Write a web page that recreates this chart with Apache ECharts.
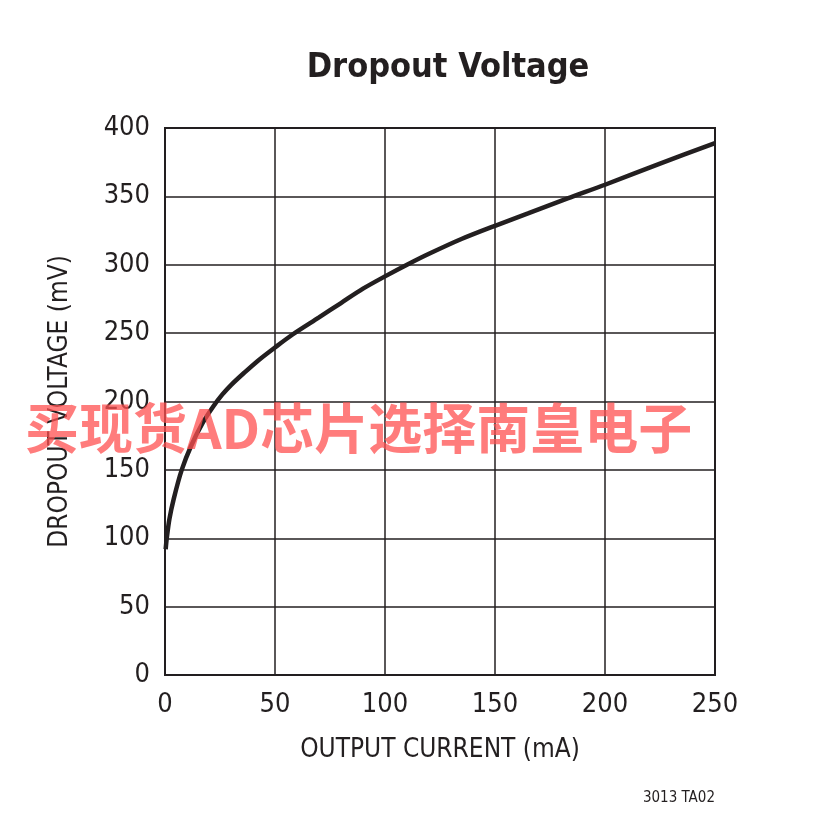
<!DOCTYPE html>
<html><head><meta charset="utf-8">
<script src="https://cdn.jsdelivr.net/npm/echarts@6/dist/echarts.min.js"></script>
<style>html,body{margin:0;padding:0;background:#fff}#c{width:827px;height:827px}</style>
</head><body><div id="c"></div>
<script>
var title = 'Dropout Voltage';
var xName = 'OUTPUT CURRENT (mA)';
var yName = 'DROPOUT VOLTAGE (mV)';
var watermark = '买现货AD芯片选择南皇电子';
var footnote = '3013 TA02';
var currentMA = [0.3, 0.8, 2, 4, 7.6, 12, 17, 22, 26, 30, 36, 42, 50, 58, 70, 80, 90, 100, 110, 120, 135, 150, 165, 183, 200, 225, 250];
var dropoutMV = [92, 100, 114, 129, 150, 168, 184, 196.5, 205, 212, 221, 229.5, 239.5, 249, 261.5, 272, 282.5, 291.5, 300, 308, 319, 328.5, 337.5, 348.5, 358.5, 374, 389];
var data = currentMA.map(function(x, i){ return [x, dropoutMV[i]]; });
var font = "'DejaVu Sans Condensed', 'Liberation Sans Narrow', 'Roboto', sans-serif";
var chart = echarts.init(document.getElementById('c'));
chart.setOption({
  animation: false,
  title: {text: title, left: 443, top: 46, textAlign: 'center',
    textStyle: {fontFamily: font, fontWeight: 'bold', fontSize: 34, color: '#231f20'}},
  grid: {left: 165, right: 112, top: 128, bottom: 152, show: true, borderColor: '#231f20', borderWidth: 2},
  xAxis: {type: 'value', min: 0, max: 250, interval: 50,
    name: xName, nameLocation: 'middle', nameGap: 62,
    nameTextStyle: {fontFamily: font, fontSize: 26, color: '#231f20'},
    axisLine: {show: false}, axisTick: {show: false},
    axisLabel: {fontFamily: font, fontSize: 27, color: '#231f20', margin: 16},
    splitLine: {lineStyle: {color: '#231f20', width: 1.5}}},
  yAxis: {type: 'value', min: 0, max: 400, interval: 50,
    name: yName, nameLocation: 'middle', nameGap: 92,
    nameTextStyle: {fontFamily: font, fontSize: 26, color: '#231f20'},
    axisLine: {show: false}, axisTick: {show: false},
    axisLabel: {fontFamily: font, fontSize: 27, color: '#231f20', margin: 15},
    splitLine: {lineStyle: {color: '#231f20', width: 1.5}}},
  series: [{type: 'line', data: data, smooth: 0.3, showSymbol: false,
    lineStyle: {color: '#231f20', width: 4.5}}],
  graphic: [
    {type: 'text', left: 25, top: 401, z: 100,
      style: {text: watermark, fontFamily: 'Noto Sans CJK SC', fontWeight: 'bold', fontSize: 54, fill: 'rgba(255,80,80,0.75)'}},
    {type: 'text', right: 112, top: 791,
      style: {text: footnote, fontFamily: font, fontSize: 15, fill: '#231f20'}}
  ]
});
</script></body></html>
